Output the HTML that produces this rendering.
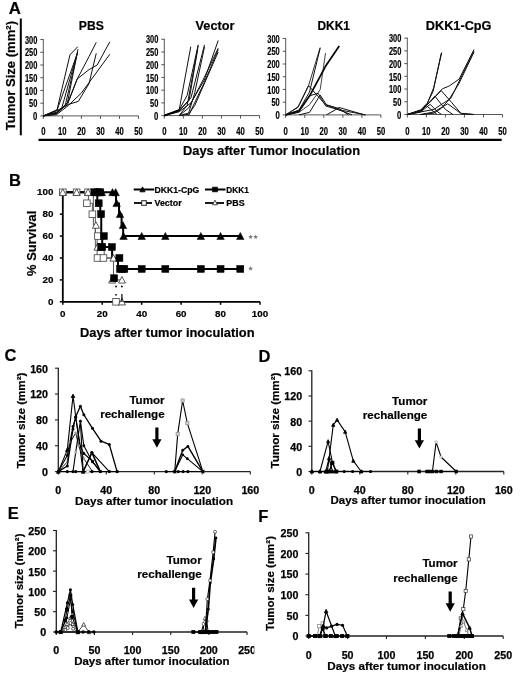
<!DOCTYPE html><html><head><meta charset="utf-8"><style>html,body{margin:0;padding:0;background:#fff;}svg{display:block;will-change:transform;}text{font-family:"Liberation Sans",sans-serif;}</style></head><body>
<svg width="520" height="677" viewBox="0 0 520 677">
<rect width="520" height="677" fill="#fff"/>
<text x="8.70" y="13.60" font-size="16.8" font-weight="bold" text-anchor="start" fill="#000"  stroke="#000" stroke-width="0.2">A</text>
<line x1="20.80" y1="18.50" x2="20.80" y2="135.30" stroke="#000" stroke-width="2"/>
<text transform="translate(15.40,130.30) rotate(-90)" x="0" y="0" font-size="13.3" font-weight="bold" textLength="109.30" lengthAdjust="spacingAndGlyphs" stroke="#000" stroke-width="0.2">Tumor Size (mm²)</text>
<line x1="38.50" y1="139.80" x2="501.70" y2="139.80" stroke="#000" stroke-width="2.2"/>
<text x="183.00" y="155.20" font-size="12.9" font-weight="bold" text-anchor="start" fill="#000" textLength="177" lengthAdjust="spacingAndGlyphs"  stroke="#000" stroke-width="0.2">Days after Tumor Inoculation</text>
<line x1="43.30" y1="39.05" x2="43.30" y2="115.90" stroke="#444" stroke-width="0.9"/>
<line x1="40.30" y1="115.90" x2="43.30" y2="115.90" stroke="#444" stroke-width="0.9"/>
<text x="37.30" y="120.10" font-size="10.2" font-weight="bold" text-anchor="end" fill="#000" textLength="4.3" lengthAdjust="spacingAndGlyphs" stroke="#000" stroke-width="0.2">0</text>
<line x1="40.30" y1="103.18" x2="43.30" y2="103.18" stroke="#444" stroke-width="0.9"/>
<text x="37.30" y="107.38" font-size="10.2" font-weight="bold" text-anchor="end" fill="#000" textLength="8.3" lengthAdjust="spacingAndGlyphs" stroke="#000" stroke-width="0.2">50</text>
<line x1="40.30" y1="90.45" x2="43.30" y2="90.45" stroke="#444" stroke-width="0.9"/>
<text x="37.30" y="94.65" font-size="10.2" font-weight="bold" text-anchor="end" fill="#000" textLength="12.4" lengthAdjust="spacingAndGlyphs" stroke="#000" stroke-width="0.2">100</text>
<line x1="40.30" y1="77.73" x2="43.30" y2="77.73" stroke="#444" stroke-width="0.9"/>
<text x="37.30" y="81.93" font-size="10.2" font-weight="bold" text-anchor="end" fill="#000" textLength="12.4" lengthAdjust="spacingAndGlyphs" stroke="#000" stroke-width="0.2">150</text>
<line x1="40.30" y1="65.00" x2="43.30" y2="65.00" stroke="#444" stroke-width="0.9"/>
<text x="37.30" y="69.20" font-size="10.2" font-weight="bold" text-anchor="end" fill="#000" textLength="12.4" lengthAdjust="spacingAndGlyphs" stroke="#000" stroke-width="0.2">200</text>
<line x1="40.30" y1="52.28" x2="43.30" y2="52.28" stroke="#444" stroke-width="0.9"/>
<text x="37.30" y="56.48" font-size="10.2" font-weight="bold" text-anchor="end" fill="#000" textLength="12.4" lengthAdjust="spacingAndGlyphs" stroke="#000" stroke-width="0.2">250</text>
<line x1="40.30" y1="39.55" x2="43.30" y2="39.55" stroke="#444" stroke-width="0.9"/>
<text x="37.30" y="43.75" font-size="10.2" font-weight="bold" text-anchor="end" fill="#000" textLength="12.4" lengthAdjust="spacingAndGlyphs" stroke="#000" stroke-width="0.2">300</text>
<line x1="43.30" y1="115.90" x2="138.55" y2="115.90" stroke="#444" stroke-width="0.9"/>
<line x1="43.30" y1="115.90" x2="43.30" y2="118.90" stroke="#444" stroke-width="0.9"/>
<text x="43.30" y="135.20" font-size="10.2" font-weight="bold" text-anchor="middle" fill="#000" textLength="4.3" lengthAdjust="spacingAndGlyphs" stroke="#000" stroke-width="0.2">0</text>
<line x1="62.35" y1="115.90" x2="62.35" y2="118.90" stroke="#444" stroke-width="0.9"/>
<text x="62.35" y="135.20" font-size="10.2" font-weight="bold" text-anchor="middle" fill="#000" textLength="8.5" lengthAdjust="spacingAndGlyphs" stroke="#000" stroke-width="0.2">10</text>
<line x1="81.40" y1="115.90" x2="81.40" y2="118.90" stroke="#444" stroke-width="0.9"/>
<text x="81.40" y="135.20" font-size="10.2" font-weight="bold" text-anchor="middle" fill="#000" textLength="8.5" lengthAdjust="spacingAndGlyphs" stroke="#000" stroke-width="0.2">20</text>
<line x1="100.45" y1="115.90" x2="100.45" y2="118.90" stroke="#444" stroke-width="0.9"/>
<text x="100.45" y="135.20" font-size="10.2" font-weight="bold" text-anchor="middle" fill="#000" textLength="8.5" lengthAdjust="spacingAndGlyphs" stroke="#000" stroke-width="0.2">30</text>
<line x1="119.50" y1="115.90" x2="119.50" y2="118.90" stroke="#444" stroke-width="0.9"/>
<text x="119.50" y="135.20" font-size="10.2" font-weight="bold" text-anchor="middle" fill="#000" textLength="8.5" lengthAdjust="spacingAndGlyphs" stroke="#000" stroke-width="0.2">40</text>
<line x1="138.55" y1="115.90" x2="138.55" y2="118.90" stroke="#444" stroke-width="0.9"/>
<text x="138.55" y="135.20" font-size="10.2" font-weight="bold" text-anchor="middle" fill="#000" textLength="8.5" lengthAdjust="spacingAndGlyphs" stroke="#000" stroke-width="0.2">50</text>
<text x="78.80" y="29.80" font-size="12.5" font-weight="bold" text-anchor="start" fill="#000" textLength="25.0" lengthAdjust="spacingAndGlyphs"  stroke="#000" stroke-width="0.2">PBS</text>
<line x1="164.30" y1="38.75" x2="164.30" y2="115.60" stroke="#444" stroke-width="0.9"/>
<line x1="161.30" y1="115.60" x2="164.30" y2="115.60" stroke="#444" stroke-width="0.9"/>
<text x="158.30" y="119.80" font-size="10.2" font-weight="bold" text-anchor="end" fill="#000" textLength="4.3" lengthAdjust="spacingAndGlyphs" stroke="#000" stroke-width="0.2">0</text>
<line x1="161.30" y1="102.88" x2="164.30" y2="102.88" stroke="#444" stroke-width="0.9"/>
<text x="158.30" y="107.08" font-size="10.2" font-weight="bold" text-anchor="end" fill="#000" textLength="8.3" lengthAdjust="spacingAndGlyphs" stroke="#000" stroke-width="0.2">50</text>
<line x1="161.30" y1="90.15" x2="164.30" y2="90.15" stroke="#444" stroke-width="0.9"/>
<text x="158.30" y="94.35" font-size="10.2" font-weight="bold" text-anchor="end" fill="#000" textLength="12.4" lengthAdjust="spacingAndGlyphs" stroke="#000" stroke-width="0.2">100</text>
<line x1="161.30" y1="77.42" x2="164.30" y2="77.42" stroke="#444" stroke-width="0.9"/>
<text x="158.30" y="81.62" font-size="10.2" font-weight="bold" text-anchor="end" fill="#000" textLength="12.4" lengthAdjust="spacingAndGlyphs" stroke="#000" stroke-width="0.2">150</text>
<line x1="161.30" y1="64.70" x2="164.30" y2="64.70" stroke="#444" stroke-width="0.9"/>
<text x="158.30" y="68.90" font-size="10.2" font-weight="bold" text-anchor="end" fill="#000" textLength="12.4" lengthAdjust="spacingAndGlyphs" stroke="#000" stroke-width="0.2">200</text>
<line x1="161.30" y1="51.97" x2="164.30" y2="51.97" stroke="#444" stroke-width="0.9"/>
<text x="158.30" y="56.17" font-size="10.2" font-weight="bold" text-anchor="end" fill="#000" textLength="12.4" lengthAdjust="spacingAndGlyphs" stroke="#000" stroke-width="0.2">250</text>
<line x1="161.30" y1="39.25" x2="164.30" y2="39.25" stroke="#444" stroke-width="0.9"/>
<text x="158.30" y="43.45" font-size="10.2" font-weight="bold" text-anchor="end" fill="#000" textLength="12.4" lengthAdjust="spacingAndGlyphs" stroke="#000" stroke-width="0.2">300</text>
<line x1="164.30" y1="115.60" x2="259.55" y2="115.60" stroke="#444" stroke-width="0.9"/>
<line x1="164.30" y1="115.60" x2="164.30" y2="118.60" stroke="#444" stroke-width="0.9"/>
<text x="164.30" y="135.20" font-size="10.2" font-weight="bold" text-anchor="middle" fill="#000" textLength="4.3" lengthAdjust="spacingAndGlyphs" stroke="#000" stroke-width="0.2">0</text>
<line x1="183.35" y1="115.60" x2="183.35" y2="118.60" stroke="#444" stroke-width="0.9"/>
<text x="183.35" y="135.20" font-size="10.2" font-weight="bold" text-anchor="middle" fill="#000" textLength="8.5" lengthAdjust="spacingAndGlyphs" stroke="#000" stroke-width="0.2">10</text>
<line x1="202.40" y1="115.60" x2="202.40" y2="118.60" stroke="#444" stroke-width="0.9"/>
<text x="202.40" y="135.20" font-size="10.2" font-weight="bold" text-anchor="middle" fill="#000" textLength="8.5" lengthAdjust="spacingAndGlyphs" stroke="#000" stroke-width="0.2">20</text>
<line x1="221.45" y1="115.60" x2="221.45" y2="118.60" stroke="#444" stroke-width="0.9"/>
<text x="221.45" y="135.20" font-size="10.2" font-weight="bold" text-anchor="middle" fill="#000" textLength="8.5" lengthAdjust="spacingAndGlyphs" stroke="#000" stroke-width="0.2">30</text>
<line x1="240.50" y1="115.60" x2="240.50" y2="118.60" stroke="#444" stroke-width="0.9"/>
<text x="240.50" y="135.20" font-size="10.2" font-weight="bold" text-anchor="middle" fill="#000" textLength="8.5" lengthAdjust="spacingAndGlyphs" stroke="#000" stroke-width="0.2">40</text>
<line x1="259.55" y1="115.60" x2="259.55" y2="118.60" stroke="#444" stroke-width="0.9"/>
<text x="259.55" y="135.20" font-size="10.2" font-weight="bold" text-anchor="middle" fill="#000" textLength="8.5" lengthAdjust="spacingAndGlyphs" stroke="#000" stroke-width="0.2">50</text>
<text x="195.60" y="29.80" font-size="12.5" font-weight="bold" text-anchor="start" fill="#000" textLength="38.8" lengthAdjust="spacingAndGlyphs"  stroke="#000" stroke-width="0.2">Vector</text>
<line x1="285.70" y1="38.05" x2="285.70" y2="114.90" stroke="#444" stroke-width="0.9"/>
<line x1="282.70" y1="114.90" x2="285.70" y2="114.90" stroke="#444" stroke-width="0.9"/>
<text x="279.70" y="119.10" font-size="10.2" font-weight="bold" text-anchor="end" fill="#000" textLength="4.3" lengthAdjust="spacingAndGlyphs" stroke="#000" stroke-width="0.2">0</text>
<line x1="282.70" y1="102.18" x2="285.70" y2="102.18" stroke="#444" stroke-width="0.9"/>
<text x="279.70" y="106.38" font-size="10.2" font-weight="bold" text-anchor="end" fill="#000" textLength="8.3" lengthAdjust="spacingAndGlyphs" stroke="#000" stroke-width="0.2">50</text>
<line x1="282.70" y1="89.45" x2="285.70" y2="89.45" stroke="#444" stroke-width="0.9"/>
<text x="279.70" y="93.65" font-size="10.2" font-weight="bold" text-anchor="end" fill="#000" textLength="12.4" lengthAdjust="spacingAndGlyphs" stroke="#000" stroke-width="0.2">100</text>
<line x1="282.70" y1="76.73" x2="285.70" y2="76.73" stroke="#444" stroke-width="0.9"/>
<text x="279.70" y="80.93" font-size="10.2" font-weight="bold" text-anchor="end" fill="#000" textLength="12.4" lengthAdjust="spacingAndGlyphs" stroke="#000" stroke-width="0.2">150</text>
<line x1="282.70" y1="64.00" x2="285.70" y2="64.00" stroke="#444" stroke-width="0.9"/>
<text x="279.70" y="68.20" font-size="10.2" font-weight="bold" text-anchor="end" fill="#000" textLength="12.4" lengthAdjust="spacingAndGlyphs" stroke="#000" stroke-width="0.2">200</text>
<line x1="282.70" y1="51.28" x2="285.70" y2="51.28" stroke="#444" stroke-width="0.9"/>
<text x="279.70" y="55.48" font-size="10.2" font-weight="bold" text-anchor="end" fill="#000" textLength="12.4" lengthAdjust="spacingAndGlyphs" stroke="#000" stroke-width="0.2">250</text>
<line x1="282.70" y1="38.55" x2="285.70" y2="38.55" stroke="#444" stroke-width="0.9"/>
<text x="279.70" y="42.75" font-size="10.2" font-weight="bold" text-anchor="end" fill="#000" textLength="12.4" lengthAdjust="spacingAndGlyphs" stroke="#000" stroke-width="0.2">300</text>
<line x1="285.70" y1="114.90" x2="380.95" y2="114.90" stroke="#444" stroke-width="0.9"/>
<line x1="285.70" y1="114.90" x2="285.70" y2="117.90" stroke="#444" stroke-width="0.9"/>
<text x="285.70" y="135.20" font-size="10.2" font-weight="bold" text-anchor="middle" fill="#000" textLength="4.3" lengthAdjust="spacingAndGlyphs" stroke="#000" stroke-width="0.2">0</text>
<line x1="304.75" y1="114.90" x2="304.75" y2="117.90" stroke="#444" stroke-width="0.9"/>
<text x="304.75" y="135.20" font-size="10.2" font-weight="bold" text-anchor="middle" fill="#000" textLength="8.5" lengthAdjust="spacingAndGlyphs" stroke="#000" stroke-width="0.2">10</text>
<line x1="323.80" y1="114.90" x2="323.80" y2="117.90" stroke="#444" stroke-width="0.9"/>
<text x="323.80" y="135.20" font-size="10.2" font-weight="bold" text-anchor="middle" fill="#000" textLength="8.5" lengthAdjust="spacingAndGlyphs" stroke="#000" stroke-width="0.2">20</text>
<line x1="342.85" y1="114.90" x2="342.85" y2="117.90" stroke="#444" stroke-width="0.9"/>
<text x="342.85" y="135.20" font-size="10.2" font-weight="bold" text-anchor="middle" fill="#000" textLength="8.5" lengthAdjust="spacingAndGlyphs" stroke="#000" stroke-width="0.2">30</text>
<line x1="361.90" y1="114.90" x2="361.90" y2="117.90" stroke="#444" stroke-width="0.9"/>
<text x="361.90" y="135.20" font-size="10.2" font-weight="bold" text-anchor="middle" fill="#000" textLength="8.5" lengthAdjust="spacingAndGlyphs" stroke="#000" stroke-width="0.2">40</text>
<line x1="380.95" y1="114.90" x2="380.95" y2="117.90" stroke="#444" stroke-width="0.9"/>
<text x="380.95" y="135.20" font-size="10.2" font-weight="bold" text-anchor="middle" fill="#000" textLength="8.5" lengthAdjust="spacingAndGlyphs" stroke="#000" stroke-width="0.2">50</text>
<text x="317.50" y="29.80" font-size="12.5" font-weight="bold" text-anchor="start" fill="#000" textLength="32.4" lengthAdjust="spacingAndGlyphs"  stroke="#000" stroke-width="0.2">DKK1</text>
<line x1="407.30" y1="37.65" x2="407.30" y2="114.50" stroke="#444" stroke-width="0.9"/>
<line x1="404.30" y1="114.50" x2="407.30" y2="114.50" stroke="#444" stroke-width="0.9"/>
<text x="401.30" y="118.70" font-size="10.2" font-weight="bold" text-anchor="end" fill="#000" textLength="4.3" lengthAdjust="spacingAndGlyphs" stroke="#000" stroke-width="0.2">0</text>
<line x1="404.30" y1="101.78" x2="407.30" y2="101.78" stroke="#444" stroke-width="0.9"/>
<text x="401.30" y="105.98" font-size="10.2" font-weight="bold" text-anchor="end" fill="#000" textLength="8.3" lengthAdjust="spacingAndGlyphs" stroke="#000" stroke-width="0.2">50</text>
<line x1="404.30" y1="89.05" x2="407.30" y2="89.05" stroke="#444" stroke-width="0.9"/>
<text x="401.30" y="93.25" font-size="10.2" font-weight="bold" text-anchor="end" fill="#000" textLength="12.4" lengthAdjust="spacingAndGlyphs" stroke="#000" stroke-width="0.2">100</text>
<line x1="404.30" y1="76.33" x2="407.30" y2="76.33" stroke="#444" stroke-width="0.9"/>
<text x="401.30" y="80.53" font-size="10.2" font-weight="bold" text-anchor="end" fill="#000" textLength="12.4" lengthAdjust="spacingAndGlyphs" stroke="#000" stroke-width="0.2">150</text>
<line x1="404.30" y1="63.60" x2="407.30" y2="63.60" stroke="#444" stroke-width="0.9"/>
<text x="401.30" y="67.80" font-size="10.2" font-weight="bold" text-anchor="end" fill="#000" textLength="12.4" lengthAdjust="spacingAndGlyphs" stroke="#000" stroke-width="0.2">200</text>
<line x1="404.30" y1="50.88" x2="407.30" y2="50.88" stroke="#444" stroke-width="0.9"/>
<text x="401.30" y="55.08" font-size="10.2" font-weight="bold" text-anchor="end" fill="#000" textLength="12.4" lengthAdjust="spacingAndGlyphs" stroke="#000" stroke-width="0.2">250</text>
<line x1="404.30" y1="38.15" x2="407.30" y2="38.15" stroke="#444" stroke-width="0.9"/>
<text x="401.30" y="42.35" font-size="10.2" font-weight="bold" text-anchor="end" fill="#000" textLength="12.4" lengthAdjust="spacingAndGlyphs" stroke="#000" stroke-width="0.2">300</text>
<line x1="407.30" y1="114.50" x2="502.55" y2="114.50" stroke="#444" stroke-width="0.9"/>
<line x1="407.30" y1="114.50" x2="407.30" y2="117.50" stroke="#444" stroke-width="0.9"/>
<text x="407.30" y="135.20" font-size="10.2" font-weight="bold" text-anchor="middle" fill="#000" textLength="4.3" lengthAdjust="spacingAndGlyphs" stroke="#000" stroke-width="0.2">0</text>
<line x1="426.35" y1="114.50" x2="426.35" y2="117.50" stroke="#444" stroke-width="0.9"/>
<text x="426.35" y="135.20" font-size="10.2" font-weight="bold" text-anchor="middle" fill="#000" textLength="8.5" lengthAdjust="spacingAndGlyphs" stroke="#000" stroke-width="0.2">10</text>
<line x1="445.40" y1="114.50" x2="445.40" y2="117.50" stroke="#444" stroke-width="0.9"/>
<text x="445.40" y="135.20" font-size="10.2" font-weight="bold" text-anchor="middle" fill="#000" textLength="8.5" lengthAdjust="spacingAndGlyphs" stroke="#000" stroke-width="0.2">20</text>
<line x1="464.45" y1="114.50" x2="464.45" y2="117.50" stroke="#444" stroke-width="0.9"/>
<text x="464.45" y="135.20" font-size="10.2" font-weight="bold" text-anchor="middle" fill="#000" textLength="8.5" lengthAdjust="spacingAndGlyphs" stroke="#000" stroke-width="0.2">30</text>
<line x1="483.50" y1="114.50" x2="483.50" y2="117.50" stroke="#444" stroke-width="0.9"/>
<text x="483.50" y="135.20" font-size="10.2" font-weight="bold" text-anchor="middle" fill="#000" textLength="8.5" lengthAdjust="spacingAndGlyphs" stroke="#000" stroke-width="0.2">40</text>
<line x1="502.55" y1="114.50" x2="502.55" y2="117.50" stroke="#444" stroke-width="0.9"/>
<text x="502.55" y="135.20" font-size="10.2" font-weight="bold" text-anchor="middle" fill="#000" textLength="8.5" lengthAdjust="spacingAndGlyphs" stroke="#000" stroke-width="0.2">50</text>
<text x="425.80" y="29.80" font-size="12.5" font-weight="bold" text-anchor="start" fill="#000" textLength="65.7" lengthAdjust="spacingAndGlyphs"  stroke="#000" stroke-width="0.2">DKK1-CpG</text>
<polyline points="43.30,115.90 57.02,109.79 69.97,54.82 77.78,46.68" fill="none" stroke="#111" stroke-width="1.0" stroke-linejoin="round" />
<polyline points="43.30,115.90 57.02,110.30 76.64,55.33" fill="none" stroke="#111" stroke-width="1.0" stroke-linejoin="round" />
<polyline points="43.30,115.90 56.63,112.08 61.78,108.01 77.21,53.29" fill="none" stroke="#111" stroke-width="1.0" stroke-linejoin="round" />
<polyline points="43.30,115.90 56.63,112.85 65.21,105.47 77.59,52.02" fill="none" stroke="#111" stroke-width="1.0" stroke-linejoin="round" />
<polyline points="43.30,115.90 56.63,113.36 67.49,102.41 77.97,49.22" fill="none" stroke="#111" stroke-width="1.0" stroke-linejoin="round" />
<polyline points="43.30,115.90 56.63,112.85 67.49,104.45 77.21,79.00 89.02,56.60 96.26,42.35" fill="none" stroke="#111" stroke-width="1.0" stroke-linejoin="round" />
<polyline points="43.30,115.90 56.63,113.86 67.49,103.18 77.21,79.00 89.02,69.58 97.21,65.00 109.78,41.84" fill="none" stroke="#111" stroke-width="1.0" stroke-linejoin="round" />
<polyline points="43.30,115.90 56.63,110.81 68.45,104.45 78.35,101.39 89.02,83.58 96.26,53.29" fill="none" stroke="#111" stroke-width="1.0" stroke-linejoin="round" />
<polyline points="43.30,115.90 56.63,114.63 68.06,105.72 81.40,93.00 109.78,54.31" fill="none" stroke="#111" stroke-width="1.0" stroke-linejoin="round" />
<polyline points="164.30,115.60 179.16,110.00 190.78,46.63" fill="none" stroke="#111" stroke-width="1.0" stroke-linejoin="round" />
<polyline points="164.30,115.60 179.16,110.00 187.16,95.24 198.21,44.85" fill="none" stroke="#111" stroke-width="1.0" stroke-linejoin="round" />
<polyline points="164.30,115.60 179.16,111.02 189.06,100.33 197.64,49.43" fill="none" stroke="#111" stroke-width="1.0" stroke-linejoin="round" />
<polyline points="179.16,115.60 187.16,105.42 198.21,45.61" fill="none" stroke="#111" stroke-width="1.0" stroke-linejoin="round" />
<polyline points="164.30,115.60 179.16,110.51 190.97,97.78 204.50,44.85" fill="none" stroke="#111" stroke-width="1.0" stroke-linejoin="round" />
<polyline points="179.16,115.60 188.68,113.05 194.78,92.69 204.50,46.88" fill="none" stroke="#111" stroke-width="1.0" stroke-linejoin="round" />
<polyline points="164.30,115.60 179.16,111.78 190.97,102.88 204.31,79.97 218.21,40.52" fill="none" stroke="#111" stroke-width="1.0" stroke-linejoin="round" />
<polyline points="179.16,115.60 188.68,107.96 204.31,77.42 218.21,48.16" fill="none" stroke="#111" stroke-width="1.0" stroke-linejoin="round" />
<polyline points="179.16,115.60 188.68,114.33 194.78,105.42 218.21,51.97" fill="none" stroke="#111" stroke-width="1.0" stroke-linejoin="round" />
<polyline points="188.68,115.60 190.97,110.51 204.31,82.51 218.21,49.43" fill="none" stroke="#111" stroke-width="1.0" stroke-linejoin="round" />
<polyline points="164.30,115.60 179.16,110.00" fill="none" stroke="#000" stroke-width="1.8" stroke-linejoin="round" />
<polyline points="285.70,114.90 298.08,106.76 308.56,85.63 320.18,47.46" fill="none" stroke="#333" stroke-width="1.0" stroke-linejoin="round" />
<polyline points="285.70,114.90 299.03,110.06 309.51,92.00 320.18,48.22" fill="none" stroke="#111" stroke-width="1.0" stroke-linejoin="round" />
<polyline points="285.70,114.90 299.03,112.36 309.51,104.72 320.18,89.70 325.51,53.06" fill="none" stroke="#444" stroke-width="1.0" stroke-linejoin="round" />
<polyline points="285.70,114.90 299.03,111.08 309.51,96.07 325.51,66.29 339.23,45.93" fill="none" stroke="#000" stroke-width="1.7" stroke-linejoin="round" />
<polyline points="285.70,114.90 298.08,107.27 308.56,85.63 325.51,104.72 351.99,114.90" fill="none" stroke="#111" stroke-width="1.0" stroke-linejoin="round" />
<polyline points="299.03,114.90 309.51,112.36 320.18,95.05 326.47,104.72 339.04,108.54 348.56,114.90" fill="none" stroke="#111" stroke-width="1.0" stroke-linejoin="round" />
<polyline points="326.47,114.90 339.23,107.52 364.57,114.90" fill="none" stroke="#111" stroke-width="1.0" stroke-linejoin="round" />
<polyline points="285.70,114.90 299.03,111.85 309.51,95.81 318.08,93.27 325.70,105.99 339.04,109.81 365.71,114.90" fill="none" stroke="#111" stroke-width="1.0" stroke-linejoin="round" />
<polyline points="407.30,114.50 420.63,110.68 426.35,105.85 433.78,87.52 441.78,52.40" fill="none" stroke="#111" stroke-width="1.0" stroke-linejoin="round" />
<polyline points="407.30,114.50 420.63,109.92 426.35,104.83 433.02,91.59 441.21,53.42" fill="none" stroke="#111" stroke-width="1.0" stroke-linejoin="round" />
<polyline points="407.30,114.50 421.21,110.17 430.16,101.78 442.35,88.80 449.21,86.00 459.12,79.12 473.98,49.60" fill="none" stroke="#111" stroke-width="1.0" stroke-linejoin="round" />
<polyline points="407.30,114.50 420.63,111.95 433.97,109.41 441.59,104.32 450.73,98.47 473.98,50.88" fill="none" stroke="#111" stroke-width="1.0" stroke-linejoin="round" />
<polyline points="420.63,114.50 433.97,113.23 441.59,108.14 449.21,99.23 458.74,83.96 473.98,52.15" fill="none" stroke="#111" stroke-width="1.0" stroke-linejoin="round" />
<polyline points="407.30,114.50 421.21,110.17 431.68,100.50 441.21,90.58 451.69,102.54 461.21,113.74 473.98,114.50" fill="none" stroke="#111" stroke-width="1.0" stroke-linejoin="round" />
<polyline points="407.30,114.50 420.63,111.45 426.35,105.59 434.92,96.18 445.40,109.41 453.02,114.50" fill="none" stroke="#111" stroke-width="1.0" stroke-linejoin="round" />
<polyline points="407.30,114.50 420.63,110.94 425.40,104.83 437.02,114.50" fill="none" stroke="#111" stroke-width="1.0" stroke-linejoin="round" />
<polyline points="420.63,114.50 433.97,111.95 447.69,103.81 460.64,113.23 473.98,114.50" fill="none" stroke="#111" stroke-width="1.0" stroke-linejoin="round" />
<polyline points="407.30,114.50 420.63,111.95 430.16,104.32 437.78,111.95 441.59,114.50" fill="none" stroke="#111" stroke-width="1.0" stroke-linejoin="round" />
<text x="8.90" y="185.60" font-size="16.5" font-weight="bold" text-anchor="start" fill="#000"  stroke="#000" stroke-width="0.2">B</text>
<line x1="62.80" y1="191.80" x2="62.80" y2="301.80" stroke="#000" stroke-width="1.8"/>
<line x1="62.80" y1="301.80" x2="260.00" y2="301.80" stroke="#000" stroke-width="1.8"/>
<line x1="59.80" y1="301.80" x2="62.80" y2="301.80" stroke="#000" stroke-width="1.5"/>
<text x="53.40" y="304.70" font-size="9.8" font-weight="bold" text-anchor="end" fill="#000" stroke="#000" stroke-width="0.2">0</text>
<line x1="59.80" y1="279.90" x2="62.80" y2="279.90" stroke="#000" stroke-width="1.5"/>
<text x="53.40" y="282.80" font-size="9.8" font-weight="bold" text-anchor="end" fill="#000" stroke="#000" stroke-width="0.2">20</text>
<line x1="59.80" y1="258.00" x2="62.80" y2="258.00" stroke="#000" stroke-width="1.5"/>
<text x="53.40" y="260.90" font-size="9.8" font-weight="bold" text-anchor="end" fill="#000" stroke="#000" stroke-width="0.2">40</text>
<line x1="59.80" y1="236.10" x2="62.80" y2="236.10" stroke="#000" stroke-width="1.5"/>
<text x="53.40" y="239.00" font-size="9.8" font-weight="bold" text-anchor="end" fill="#000" stroke="#000" stroke-width="0.2">60</text>
<line x1="59.80" y1="214.20" x2="62.80" y2="214.20" stroke="#000" stroke-width="1.5"/>
<text x="53.40" y="217.10" font-size="9.8" font-weight="bold" text-anchor="end" fill="#000" stroke="#000" stroke-width="0.2">80</text>
<line x1="59.80" y1="192.30" x2="62.80" y2="192.30" stroke="#000" stroke-width="1.5"/>
<text x="53.40" y="195.20" font-size="9.8" font-weight="bold" text-anchor="end" fill="#000" stroke="#000" stroke-width="0.2">100</text>
<line x1="62.80" y1="301.80" x2="62.80" y2="304.80" stroke="#000" stroke-width="1.5"/>
<text x="62.80" y="317.20" font-size="9.8" font-weight="bold" text-anchor="middle" fill="#000" stroke="#000" stroke-width="0.2">0</text>
<line x1="102.24" y1="301.80" x2="102.24" y2="304.80" stroke="#000" stroke-width="1.5"/>
<text x="102.24" y="317.20" font-size="9.8" font-weight="bold" text-anchor="middle" fill="#000" stroke="#000" stroke-width="0.2">20</text>
<line x1="141.68" y1="301.80" x2="141.68" y2="304.80" stroke="#000" stroke-width="1.5"/>
<text x="141.68" y="317.20" font-size="9.8" font-weight="bold" text-anchor="middle" fill="#000" stroke="#000" stroke-width="0.2">40</text>
<line x1="181.12" y1="301.80" x2="181.12" y2="304.80" stroke="#000" stroke-width="1.5"/>
<text x="181.12" y="317.20" font-size="9.8" font-weight="bold" text-anchor="middle" fill="#000" stroke="#000" stroke-width="0.2">60</text>
<line x1="220.56" y1="301.80" x2="220.56" y2="304.80" stroke="#000" stroke-width="1.5"/>
<text x="220.56" y="317.20" font-size="9.8" font-weight="bold" text-anchor="middle" fill="#000" stroke="#000" stroke-width="0.2">80</text>
<line x1="260.00" y1="301.80" x2="260.00" y2="304.80" stroke="#000" stroke-width="1.5"/>
<text x="260.00" y="317.20" font-size="9.8" font-weight="bold" text-anchor="middle" fill="#000" stroke="#000" stroke-width="0.2">100</text>
<text transform="translate(36.10,275.90) rotate(-90)" x="0" y="0" font-size="12.9" font-weight="bold" textLength="65.20" lengthAdjust="spacingAndGlyphs" stroke="#000" stroke-width="0.2">% Survival</text>
<text x="80.00" y="336.50" font-size="12.9" font-weight="bold" text-anchor="start" fill="#000" textLength="174.6" lengthAdjust="spacingAndGlyphs"  stroke="#000" stroke-width="0.2">Days after tumor inoculation</text>
<polyline points="62.80,192.30 88.44,192.30 88.44,203.25 92.38,203.25 92.38,214.20 95.34,214.20 95.34,236.10 97.11,236.10 97.11,258.00 116.04,258.00" fill="none" stroke="#555" stroke-width="1.0" stroke-linejoin="round" />
<polyline points="62.80,192.30 93.37,192.30 93.37,225.15 95.34,225.15 95.34,247.05 104.21,247.05 104.21,258.00 113.48,258.00 113.48,279.90 121.96,279.90" fill="none" stroke="#555" stroke-width="1.0" stroke-linejoin="round" />
<polyline points="62.80,192.30 97.31,192.30 97.31,203.25 100.27,203.25 100.27,214.20 101.25,214.20 101.25,236.10 102.24,236.10 102.24,247.05 112.10,247.05 112.10,258.00 118.02,258.00 118.02,268.95 240.28,268.95" fill="none" stroke="#000" stroke-width="2.0" stroke-linejoin="round" />
<polyline points="62.80,192.30 116.04,192.30 116.04,203.25 119.00,203.25 119.00,214.20 121.57,214.20 121.57,225.15 123.14,225.15 123.14,236.10 240.28,236.10" fill="none" stroke="#000" stroke-width="2.0" stroke-linejoin="round" />
<rect x="59.50" y="189.00" width="6.6" height="6.6" fill="#fff" stroke="#555" stroke-width="0.9"/>
<rect x="73.30" y="189.00" width="6.6" height="6.6" fill="#fff" stroke="#555" stroke-width="0.9"/>
<rect x="84.74" y="189.00" width="6.6" height="6.6" fill="#fff" stroke="#555" stroke-width="0.9"/>
<rect x="83.56" y="199.95" width="6.6" height="6.6" fill="#fff" stroke="#555" stroke-width="0.9"/>
<rect x="89.08" y="210.90" width="6.6" height="6.6" fill="#fff" stroke="#555" stroke-width="0.9"/>
<rect x="94.60" y="232.80" width="6.6" height="6.6" fill="#fff" stroke="#555" stroke-width="0.9"/>
<rect x="94.21" y="254.70" width="6.6" height="6.6" fill="#fff" stroke="#555" stroke-width="0.9"/>
<rect x="100.12" y="254.70" width="6.6" height="6.6" fill="#fff" stroke="#555" stroke-width="0.9"/>
<rect x="112.74" y="298.50" width="6.6" height="6.6" fill="#fff" stroke="#555" stroke-width="0.9"/>
<polygon points="62.80,188.85 66.30,195.45 59.30,195.45" fill="#fff" stroke="#444" stroke-width="0.9"/>
<polygon points="76.60,188.85 80.10,195.45 73.10,195.45" fill="#fff" stroke="#444" stroke-width="0.9"/>
<polygon points="88.04,188.85 91.54,195.45 84.54,195.45" fill="#fff" stroke="#444" stroke-width="0.9"/>
<polygon points="95.93,221.70 99.43,228.30 92.43,228.30" fill="#fff" stroke="#444" stroke-width="0.9"/>
<polygon points="97.51,243.60 101.01,250.20 94.01,250.20" fill="#fff" stroke="#444" stroke-width="0.9"/>
<polygon points="113.48,254.55 116.98,261.15 109.98,261.15" fill="#fff" stroke="#444" stroke-width="0.9"/>
<polygon points="112.10,276.45 115.60,283.05 108.60,283.05" fill="#fff" stroke="#444" stroke-width="0.9"/>
<polygon points="121.96,276.45 125.46,283.05 118.46,283.05" fill="#fff" stroke="#444" stroke-width="0.9"/>
<polygon points="121.96,298.35 125.46,304.95 118.46,304.95" fill="#fff" stroke="#444" stroke-width="0.9"/>
<rect x="90.85" y="188.80" width="7" height="7" fill="#000" stroke="#000" stroke-width="0.5"/>
<rect x="94.01" y="188.80" width="7" height="7" fill="#000" stroke="#000" stroke-width="0.5"/>
<rect x="96.77" y="188.80" width="7" height="7" fill="#000" stroke="#000" stroke-width="0.5"/>
<rect x="95.19" y="199.75" width="7" height="7" fill="#000" stroke="#000" stroke-width="0.5"/>
<rect x="97.56" y="210.70" width="7" height="7" fill="#000" stroke="#000" stroke-width="0.5"/>
<rect x="100.32" y="232.60" width="7" height="7" fill="#000" stroke="#000" stroke-width="0.5"/>
<rect x="97.56" y="243.55" width="7" height="7" fill="#000" stroke="#000" stroke-width="0.5"/>
<rect x="98.74" y="243.55" width="7" height="7" fill="#000" stroke="#000" stroke-width="0.5"/>
<rect x="108.40" y="243.55" width="7" height="7" fill="#000" stroke="#000" stroke-width="0.5"/>
<rect x="115.90" y="254.50" width="7" height="7" fill="#000" stroke="#000" stroke-width="0.5"/>
<rect x="116.49" y="265.45" width="7" height="7" fill="#000" stroke="#000" stroke-width="0.5"/>
<rect x="118.85" y="265.45" width="7" height="7" fill="#000" stroke="#000" stroke-width="0.5"/>
<rect x="120.83" y="265.45" width="7" height="7" fill="#000" stroke="#000" stroke-width="0.5"/>
<rect x="138.18" y="265.45" width="7" height="7" fill="#000" stroke="#000" stroke-width="0.5"/>
<rect x="161.84" y="265.45" width="7" height="7" fill="#000" stroke="#000" stroke-width="0.5"/>
<rect x="197.34" y="265.45" width="7" height="7" fill="#000" stroke="#000" stroke-width="0.5"/>
<rect x="217.06" y="265.45" width="7" height="7" fill="#000" stroke="#000" stroke-width="0.5"/>
<rect x="236.78" y="265.45" width="7" height="7" fill="#000" stroke="#000" stroke-width="0.5"/>
<rect x="110.57" y="274.76" width="7" height="7" fill="#000" stroke="#000" stroke-width="0.5"/>
<polygon points="96.32,188.62 100.07,195.68 92.57,195.68" fill="#000" stroke="#000" stroke-width="0.5"/>
<polygon points="99.28,188.62 103.03,195.68 95.53,195.68" fill="#000" stroke="#000" stroke-width="0.5"/>
<polygon points="101.85,188.62 105.60,195.68 98.10,195.68" fill="#000" stroke="#000" stroke-width="0.5"/>
<polygon points="112.49,188.62 116.24,195.68 108.74,195.68" fill="#000" stroke="#000" stroke-width="0.5"/>
<polygon points="115.65,188.62 119.40,195.68 111.90,195.68" fill="#000" stroke="#000" stroke-width="0.5"/>
<polygon points="116.64,199.57 120.39,206.62 112.89,206.62" fill="#000" stroke="#000" stroke-width="0.5"/>
<polygon points="119.99,210.53 123.74,217.58 116.24,217.58" fill="#000" stroke="#000" stroke-width="0.5"/>
<polygon points="122.95,221.48 126.70,228.53 119.20,228.53" fill="#000" stroke="#000" stroke-width="0.5"/>
<polygon points="123.54,232.43 127.29,239.48 119.79,239.48" fill="#000" stroke="#000" stroke-width="0.5"/>
<polygon points="141.68,232.43 145.43,239.48 137.93,239.48" fill="#000" stroke="#000" stroke-width="0.5"/>
<polygon points="165.34,232.43 169.09,239.48 161.59,239.48" fill="#000" stroke="#000" stroke-width="0.5"/>
<polygon points="200.84,232.43 204.59,239.48 197.09,239.48" fill="#000" stroke="#000" stroke-width="0.5"/>
<polygon points="220.56,232.43 224.31,239.48 216.81,239.48" fill="#000" stroke="#000" stroke-width="0.5"/>
<polygon points="240.28,232.43 244.03,239.48 236.53,239.48" fill="#000" stroke="#000" stroke-width="0.5"/>
<circle cx="116.00" cy="286.50" r="0.9" fill="#000"/>
<circle cx="121.90" cy="286.50" r="0.9" fill="#000"/>
<circle cx="116.00" cy="294.80" r="0.9" fill="#000"/>
<line x1="121.90" y1="294.00" x2="121.90" y2="302.00" stroke="#000" stroke-width="1.2"/>
<line x1="133.70" y1="189.50" x2="154.30" y2="189.50" stroke="#000" stroke-width="2"/>
<polygon points="142.50,186.86 145.10,191.84 139.90,191.84" fill="#000" stroke="#000" stroke-width="0.8"/>
<text x="154.50" y="192.70" font-size="8.9" font-weight="bold" text-anchor="start" fill="#000" textLength="44.7" lengthAdjust="spacingAndGlyphs"  stroke="#000" stroke-width="0.2">DKK1-CpG</text>
<line x1="205.00" y1="189.50" x2="225.50" y2="189.50" stroke="#000" stroke-width="2"/>
<rect x="212.70" y="187.20" width="4.6" height="4.6" fill="#000" stroke="#000" stroke-width="0.8"/>
<text x="226.30" y="192.70" font-size="8.9" font-weight="bold" text-anchor="start" fill="#000" textLength="22.5" lengthAdjust="spacingAndGlyphs"  stroke="#000" stroke-width="0.2">DKK1</text>
<line x1="134.00" y1="203.00" x2="152.00" y2="203.00" stroke="#000" stroke-width="1.8"/>
<rect x="141.70" y="200.70" width="4.6" height="4.6" fill="#fff" stroke="#222" stroke-width="1.0"/>
<text x="154.50" y="206.20" font-size="8.9" font-weight="bold" text-anchor="start" fill="#000"  stroke="#000" stroke-width="0.2">Vector</text>
<line x1="205.00" y1="203.00" x2="224.00" y2="203.00" stroke="#000" stroke-width="1.8"/>
<polygon points="215.00,200.14 217.40,204.76 212.60,204.76" fill="#fff" stroke="#333" stroke-width="0.9"/>
<text x="226.30" y="206.20" font-size="8.9" font-weight="bold" text-anchor="start" fill="#000"  stroke="#000" stroke-width="0.2">PBS</text>
<polygon points="250.60,234.40 251.25,236.01 252.98,236.13 251.65,237.24 252.07,238.92 250.60,238.00 249.13,238.92 249.55,237.24 248.22,236.13 249.95,236.01" fill="#777"/>
<polygon points="255.60,234.40 256.25,236.01 257.98,236.13 256.65,237.24 257.07,238.92 255.60,238.00 254.13,238.92 254.55,237.24 253.22,236.13 254.95,236.01" fill="#777"/>
<polygon points="250.60,266.10 251.25,267.71 252.98,267.83 251.65,268.94 252.07,270.62 250.60,269.70 249.13,270.62 249.55,268.94 248.22,267.83 249.95,267.71" fill="#777"/>
<text x="4.50" y="361.00" font-size="16.5" font-weight="bold" text-anchor="start" fill="#000"  stroke="#000" stroke-width="0.2">C</text>
<line x1="58.30" y1="367.70" x2="58.30" y2="471.60" stroke="#222" stroke-width="1.3"/>
<line x1="58.30" y1="471.60" x2="250.30" y2="471.60" stroke="#222" stroke-width="1.3"/>
<line x1="55.00" y1="471.60" x2="58.30" y2="471.60" stroke="#222" stroke-width="1.1"/>
<text x="48.00" y="476.00" font-size="10.7" font-weight="bold" text-anchor="end" fill="#000" stroke="#000" stroke-width="0.25">0</text>
<line x1="55.00" y1="445.75" x2="58.30" y2="445.75" stroke="#222" stroke-width="1.1"/>
<text x="48.00" y="450.15" font-size="10.7" font-weight="bold" text-anchor="end" fill="#000" stroke="#000" stroke-width="0.25">40</text>
<line x1="55.00" y1="419.90" x2="58.30" y2="419.90" stroke="#222" stroke-width="1.1"/>
<text x="48.00" y="424.30" font-size="10.7" font-weight="bold" text-anchor="end" fill="#000" stroke="#000" stroke-width="0.25">80</text>
<line x1="55.00" y1="394.05" x2="58.30" y2="394.05" stroke="#222" stroke-width="1.1"/>
<text x="48.00" y="398.45" font-size="10.7" font-weight="bold" text-anchor="end" fill="#000" stroke="#000" stroke-width="0.25">120</text>
<line x1="55.00" y1="368.20" x2="58.30" y2="368.20" stroke="#222" stroke-width="1.1"/>
<text x="48.00" y="372.60" font-size="10.7" font-weight="bold" text-anchor="end" fill="#000" stroke="#000" stroke-width="0.25">160</text>
<line x1="58.30" y1="471.60" x2="58.30" y2="474.60" stroke="#222" stroke-width="1.1"/>
<text x="58.30" y="494.20" font-size="10.7" font-weight="bold" text-anchor="middle" fill="#000" stroke="#000" stroke-width="0.25">0</text>
<line x1="106.30" y1="471.60" x2="106.30" y2="474.60" stroke="#222" stroke-width="1.1"/>
<text x="106.30" y="494.20" font-size="10.7" font-weight="bold" text-anchor="middle" fill="#000" stroke="#000" stroke-width="0.25">40</text>
<line x1="154.30" y1="471.60" x2="154.30" y2="474.60" stroke="#222" stroke-width="1.1"/>
<text x="154.30" y="494.20" font-size="10.7" font-weight="bold" text-anchor="middle" fill="#000" stroke="#000" stroke-width="0.25">80</text>
<line x1="202.30" y1="471.60" x2="202.30" y2="474.60" stroke="#222" stroke-width="1.1"/>
<text x="202.30" y="494.20" font-size="10.7" font-weight="bold" text-anchor="middle" fill="#000" stroke="#000" stroke-width="0.25">120</text>
<line x1="250.30" y1="471.60" x2="250.30" y2="474.60" stroke="#222" stroke-width="1.1"/>
<text x="250.30" y="494.20" font-size="10.7" font-weight="bold" text-anchor="middle" fill="#000" stroke="#000" stroke-width="0.25">160</text>
<text transform="translate(25.00,468.40) rotate(-90)" x="0" y="0" font-size="10.8" font-weight="bold" textLength="95.80" lengthAdjust="spacingAndGlyphs" stroke="#000" stroke-width="0.2">Tumor size (mm²)</text>
<text x="75.00" y="505.00" font-size="11.6" font-weight="bold" text-anchor="start" fill="#000" textLength="158" lengthAdjust="spacingAndGlyphs"  stroke="#000" stroke-width="0.2">Days after tumor inoculation</text>
<text x="164.60" y="403.80" font-size="11.6" font-weight="bold" text-anchor="end" fill="#000"  stroke="#000" stroke-width="0.2">Tumor</text>
<text x="164.60" y="417.90" font-size="11.6" font-weight="bold" text-anchor="end" fill="#000"  stroke="#000" stroke-width="0.2">rechallenge</text>
<polygon points="155.30,427.50 158.50,427.50 158.50,439.22 161.50,439.22 156.90,447.70 152.30,439.22 155.30,439.22" fill="#000"/>
<polyline points="58.30,471.60 67.30,449.89 73.00,395.99 83.14,471.60" fill="none" stroke="#000" stroke-width="1.1" stroke-linejoin="round" />
<polygon points="58.30,469.68 60.10,473.22 56.50,473.22" fill="#000" stroke="#000" stroke-width="0.8"/>
<polygon points="67.30,447.97 69.10,451.51 65.50,451.51" fill="#000" stroke="#000" stroke-width="0.8"/>
<polygon points="73.00,394.07 74.80,397.61 71.20,397.61" fill="#000" stroke="#000" stroke-width="0.8"/>
<polygon points="83.14,469.68 84.94,473.22 81.34,473.22" fill="#000" stroke="#000" stroke-width="0.8"/>
<polyline points="58.30,471.60 67.30,455.44 73.00,426.36 75.70,417.31 80.38,446.40 83.86,453.50 92.50,461.26 100.30,471.60" fill="none" stroke="#000" stroke-width="1.1" stroke-linejoin="round" />
<circle cx="58.30" cy="471.60" r="1.4" fill="#000"/>
<circle cx="67.30" cy="455.44" r="1.4" fill="#000"/>
<circle cx="73.00" cy="426.36" r="1.4" fill="#000"/>
<circle cx="75.70" cy="417.31" r="1.4" fill="#000"/>
<circle cx="80.38" cy="446.40" r="1.4" fill="#000"/>
<circle cx="83.86" cy="453.50" r="1.4" fill="#000"/>
<circle cx="92.50" cy="461.26" r="1.4" fill="#000"/>
<circle cx="100.30" cy="471.60" r="1.4" fill="#000"/>
<polyline points="58.30,471.60 67.30,461.91 70.30,442.52 75.70,432.82 78.70,445.75 83.86,458.68 92.50,471.60" fill="none" stroke="#222" stroke-width="1.0" stroke-linejoin="round" />
<circle cx="58.30" cy="471.60" r="1.4" fill="#999"/>
<circle cx="67.30" cy="461.91" r="1.4" fill="#999"/>
<circle cx="70.30" cy="442.52" r="1.4" fill="#999"/>
<circle cx="75.70" cy="432.82" r="1.4" fill="#999"/>
<circle cx="78.70" cy="445.75" r="1.4" fill="#999"/>
<circle cx="83.86" cy="458.68" r="1.4" fill="#999"/>
<circle cx="92.50" cy="471.60" r="1.4" fill="#999"/>
<polyline points="73.00,471.60 75.70,452.21 80.38,421.19 83.14,471.60" fill="none" stroke="#000" stroke-width="1.1" stroke-linejoin="round" />
<circle cx="73.00" cy="471.60" r="1.5" fill="#aaa"/>
<circle cx="75.70" cy="452.21" r="1.5" fill="#aaa"/>
<circle cx="80.38" cy="421.19" r="1.5" fill="#aaa"/>
<circle cx="83.14" cy="471.60" r="1.5" fill="#aaa"/>
<polyline points="80.38,421.19 83.86,445.75 92.50,461.91 100.30,471.60" fill="none" stroke="#000" stroke-width="1.1" stroke-linejoin="round" />
<circle cx="80.38" cy="421.19" r="1.4" fill="#000"/>
<circle cx="83.86" cy="445.75" r="1.4" fill="#000"/>
<circle cx="92.50" cy="461.91" r="1.4" fill="#000"/>
<circle cx="100.30" cy="471.60" r="1.4" fill="#000"/>
<polyline points="83.14,471.60 91.90,452.60 100.30,471.60" fill="none" stroke="#000" stroke-width="1.5" stroke-linejoin="round" />
<circle cx="83.14" cy="471.60" r="1.5" fill="#000"/>
<circle cx="91.90" cy="452.60" r="1.5" fill="#000"/>
<circle cx="100.30" cy="471.60" r="1.5" fill="#000"/>
<polyline points="91.90,452.60 109.30,471.60" fill="none" stroke="#000" stroke-width="1.1" stroke-linejoin="round" />
<circle cx="91.90" cy="452.60" r="1.4" fill="#000"/>
<circle cx="109.30" cy="471.60" r="1.4" fill="#000"/>
<polyline points="58.30,471.60 67.30,465.98 73.00,428.95 75.70,416.86 80.38,406.33 83.86,414.73 92.50,428.30 101.02,441.23 109.30,444.46 117.10,471.60" fill="none" stroke="#000" stroke-width="1.3" stroke-linejoin="round" />
<circle cx="58.30" cy="471.60" r="1.5" fill="#000"/>
<circle cx="67.30" cy="465.98" r="1.5" fill="#000"/>
<circle cx="73.00" cy="428.95" r="1.5" fill="#000"/>
<circle cx="75.70" cy="416.86" r="1.5" fill="#000"/>
<circle cx="80.38" cy="406.33" r="1.5" fill="#000"/>
<circle cx="83.86" cy="414.73" r="1.5" fill="#000"/>
<circle cx="92.50" cy="428.30" r="1.5" fill="#000"/>
<circle cx="101.02" cy="441.23" r="1.5" fill="#000"/>
<circle cx="109.30" cy="444.46" r="1.5" fill="#000"/>
<circle cx="117.10" cy="471.60" r="1.5" fill="#000"/>
<polyline points="58.30,471.60 67.30,471.60 73.00,471.60 75.70,471.60 83.14,471.60 91.90,471.60 100.30,471.60 109.30,471.60 117.10,471.60" fill="none" stroke="#000" stroke-width="1.0" stroke-linejoin="round" />
<circle cx="58.30" cy="471.60" r="1.6" fill="#000"/>
<circle cx="67.30" cy="471.60" r="1.6" fill="#000"/>
<circle cx="73.00" cy="471.60" r="1.6" fill="#000"/>
<circle cx="75.70" cy="471.60" r="1.6" fill="#000"/>
<circle cx="83.14" cy="471.60" r="1.6" fill="#000"/>
<circle cx="91.90" cy="471.60" r="1.6" fill="#000"/>
<circle cx="100.30" cy="471.60" r="1.6" fill="#000"/>
<circle cx="109.30" cy="471.60" r="1.6" fill="#000"/>
<circle cx="117.10" cy="471.60" r="1.6" fill="#000"/>
<polyline points="87.70,471.60" fill="none" stroke="#000" stroke-width="1.0" stroke-linejoin="round" />
<rect x="86.20" y="470.10" width="3.0" height="3.0" fill="#fff" stroke="#aaa" stroke-width="0.7"/>
<polyline points="174.70,471.60 177.70,434.12 182.62,400.51 187.30,423.13 202.90,471.60" fill="none" stroke="#000" stroke-width="1.1" stroke-linejoin="round" />
<rect x="173.10" y="470.00" width="3.2" height="3.2" fill="#ccc" stroke="#999" stroke-width="0.8"/>
<rect x="176.10" y="432.52" width="3.2" height="3.2" fill="#ccc" stroke="#999" stroke-width="0.8"/>
<rect x="181.02" y="398.91" width="3.2" height="3.2" fill="#ccc" stroke="#999" stroke-width="0.8"/>
<rect x="185.70" y="421.53" width="3.2" height="3.2" fill="#ccc" stroke="#999" stroke-width="0.8"/>
<rect x="201.30" y="470.00" width="3.2" height="3.2" fill="#ccc" stroke="#999" stroke-width="0.8"/>
<polyline points="174.70,471.60 182.74,450.27 187.90,446.40 202.90,471.60" fill="none" stroke="#000" stroke-width="1.4" stroke-linejoin="round" />
<circle cx="174.70" cy="471.60" r="1.4" fill="#000"/>
<circle cx="182.74" cy="450.27" r="1.4" fill="#000"/>
<circle cx="187.90" cy="446.40" r="1.4" fill="#000"/>
<circle cx="202.90" cy="471.60" r="1.4" fill="#000"/>
<polyline points="174.70,471.60 182.74,454.80 187.30,458.68 202.90,471.60" fill="none" stroke="#000" stroke-width="1.1" stroke-linejoin="round" />
<circle cx="174.70" cy="471.60" r="1.4" fill="#000"/>
<circle cx="182.74" cy="454.80" r="1.4" fill="#000"/>
<circle cx="187.30" cy="458.68" r="1.4" fill="#000"/>
<circle cx="202.90" cy="471.60" r="1.4" fill="#000"/>
<polyline points="166.30,471.60 174.70,471.60 178.30,471.60 183.10,471.60 187.90,471.60 202.90,471.60" fill="none" stroke="#000" stroke-width="1.0" stroke-linejoin="round" />
<circle cx="166.30" cy="471.60" r="1.6" fill="#000"/>
<circle cx="174.70" cy="471.60" r="1.6" fill="#000"/>
<circle cx="178.30" cy="471.60" r="1.6" fill="#000"/>
<circle cx="183.10" cy="471.60" r="1.6" fill="#000"/>
<circle cx="187.90" cy="471.60" r="1.6" fill="#000"/>
<circle cx="202.90" cy="471.60" r="1.6" fill="#000"/>
<text x="258.60" y="362.00" font-size="16.5" font-weight="bold" text-anchor="start" fill="#000"  stroke="#000" stroke-width="0.2">D</text>
<line x1="311.80" y1="370.30" x2="311.80" y2="471.50" stroke="#222" stroke-width="1.3"/>
<line x1="311.80" y1="471.50" x2="503.80" y2="471.50" stroke="#222" stroke-width="1.3"/>
<line x1="308.50" y1="471.50" x2="311.80" y2="471.50" stroke="#222" stroke-width="1.1"/>
<text x="302.10" y="475.90" font-size="10.7" font-weight="bold" text-anchor="end" fill="#000" stroke="#000" stroke-width="0.25">0</text>
<line x1="308.50" y1="446.32" x2="311.80" y2="446.32" stroke="#222" stroke-width="1.1"/>
<text x="302.10" y="450.72" font-size="10.7" font-weight="bold" text-anchor="end" fill="#000" stroke="#000" stroke-width="0.25">40</text>
<line x1="308.50" y1="421.15" x2="311.80" y2="421.15" stroke="#222" stroke-width="1.1"/>
<text x="302.10" y="425.55" font-size="10.7" font-weight="bold" text-anchor="end" fill="#000" stroke="#000" stroke-width="0.25">80</text>
<line x1="308.50" y1="395.98" x2="311.80" y2="395.98" stroke="#222" stroke-width="1.1"/>
<text x="302.10" y="400.38" font-size="10.7" font-weight="bold" text-anchor="end" fill="#000" stroke="#000" stroke-width="0.25">120</text>
<line x1="308.50" y1="370.80" x2="311.80" y2="370.80" stroke="#222" stroke-width="1.1"/>
<text x="302.10" y="375.20" font-size="10.7" font-weight="bold" text-anchor="end" fill="#000" stroke="#000" stroke-width="0.25">160</text>
<line x1="311.80" y1="471.50" x2="311.80" y2="474.50" stroke="#222" stroke-width="1.1"/>
<text x="311.80" y="493.90" font-size="10.7" font-weight="bold" text-anchor="middle" fill="#000" stroke="#000" stroke-width="0.25">0</text>
<line x1="359.80" y1="471.50" x2="359.80" y2="474.50" stroke="#222" stroke-width="1.1"/>
<text x="359.80" y="493.90" font-size="10.7" font-weight="bold" text-anchor="middle" fill="#000" stroke="#000" stroke-width="0.25">40</text>
<line x1="407.80" y1="471.50" x2="407.80" y2="474.50" stroke="#222" stroke-width="1.1"/>
<text x="407.80" y="493.90" font-size="10.7" font-weight="bold" text-anchor="middle" fill="#000" stroke="#000" stroke-width="0.25">80</text>
<line x1="455.80" y1="471.50" x2="455.80" y2="474.50" stroke="#222" stroke-width="1.1"/>
<text x="455.80" y="493.90" font-size="10.7" font-weight="bold" text-anchor="middle" fill="#000" stroke="#000" stroke-width="0.25">120</text>
<line x1="503.80" y1="471.50" x2="503.80" y2="474.50" stroke="#222" stroke-width="1.1"/>
<text x="503.80" y="493.90" font-size="10.7" font-weight="bold" text-anchor="middle" fill="#000" stroke="#000" stroke-width="0.25">160</text>
<text transform="translate(278.60,468.40) rotate(-90)" x="0" y="0" font-size="10.8" font-weight="bold" textLength="95.80" lengthAdjust="spacingAndGlyphs" stroke="#000" stroke-width="0.2">Tumor size (mm²)</text>
<text x="330.50" y="504.20" font-size="11.6" font-weight="bold" text-anchor="start" fill="#000" textLength="155.3" lengthAdjust="spacingAndGlyphs"  stroke="#000" stroke-width="0.2">Days after tumor inoculation</text>
<text x="427.30" y="405.00" font-size="11.6" font-weight="bold" text-anchor="end" fill="#000"  stroke="#000" stroke-width="0.2">Tumor</text>
<text x="427.30" y="418.50" font-size="11.6" font-weight="bold" text-anchor="end" fill="#000"  stroke="#000" stroke-width="0.2">rechallenge</text>
<polygon points="417.80,428.50 421.00,428.50 421.00,440.16 424.00,440.16 419.40,448.60 414.80,440.16 417.80,440.16" fill="#000"/>
<polyline points="311.80,471.50 319.96,471.50 328.12,441.29 332.44,462.69 336.28,471.50" fill="none" stroke="#000" stroke-width="1.1" stroke-linejoin="round" />
<polygon points="311.80,469.85 313.30,472.85 310.30,472.85" fill="#000" stroke="#000" stroke-width="0.8"/>
<polygon points="319.96,469.85 321.46,472.85 318.46,472.85" fill="#000" stroke="#000" stroke-width="0.8"/>
<polygon points="328.12,439.64 329.62,442.64 326.62,442.64" fill="#000" stroke="#000" stroke-width="0.8"/>
<polygon points="332.44,461.04 333.94,464.04 330.94,464.04" fill="#000" stroke="#000" stroke-width="0.8"/>
<polygon points="336.28,469.85 337.78,472.85 334.78,472.85" fill="#000" stroke="#000" stroke-width="0.8"/>
<polyline points="325.72,471.50 329.08,458.28 332.44,471.50" fill="none" stroke="#000" stroke-width="1.1" stroke-linejoin="round" />
<polygon points="325.72,469.67 327.42,473.03 324.02,473.03" fill="#000" stroke="#000" stroke-width="0.8"/>
<polygon points="329.08,456.45 330.78,459.81 327.38,459.81" fill="#000" stroke="#000" stroke-width="0.8"/>
<polygon points="332.44,469.67 334.14,473.03 330.74,473.03" fill="#000" stroke="#000" stroke-width="0.8"/>
<polyline points="329.08,471.50 332.44,462.69 336.28,471.50" fill="none" stroke="#000" stroke-width="1.3" stroke-linejoin="round" />
<rect x="327.58" y="470.00" width="3.0" height="3.0" fill="#000" stroke="#000" stroke-width="0.8"/>
<rect x="330.94" y="461.19" width="3.0" height="3.0" fill="#000" stroke="#000" stroke-width="0.8"/>
<rect x="334.78" y="470.00" width="3.0" height="3.0" fill="#000" stroke="#000" stroke-width="0.8"/>
<polyline points="311.80,471.50 319.96,471.50 325.72,471.50 327.40,471.50 333.28,424.93 337.12,419.89 345.16,431.85 353.32,460.80 361.24,471.50" fill="none" stroke="#000" stroke-width="1.1" stroke-linejoin="round" />
<polygon points="311.80,469.76 313.40,472.94 310.20,472.94" fill="#000" stroke="#000" stroke-width="0.8"/>
<polygon points="319.96,469.76 321.56,472.94 318.36,472.94" fill="#000" stroke="#000" stroke-width="0.8"/>
<polygon points="325.72,469.76 327.32,472.94 324.12,472.94" fill="#000" stroke="#000" stroke-width="0.8"/>
<polygon points="327.40,469.76 329.00,472.94 325.80,472.94" fill="#000" stroke="#000" stroke-width="0.8"/>
<polygon points="333.28,423.19 334.88,426.37 331.68,426.37" fill="#000" stroke="#000" stroke-width="0.8"/>
<polygon points="337.12,418.15 338.72,421.33 335.52,421.33" fill="#000" stroke="#000" stroke-width="0.8"/>
<polygon points="345.16,430.11 346.76,433.29 343.56,433.29" fill="#000" stroke="#000" stroke-width="0.8"/>
<polygon points="353.32,459.06 354.92,462.24 351.72,462.24" fill="#000" stroke="#000" stroke-width="0.8"/>
<polygon points="361.24,469.76 362.84,472.94 359.64,472.94" fill="#000" stroke="#000" stroke-width="0.8"/>
<polyline points="311.80,471.50 319.96,471.50 325.72,471.50 327.16,471.50 329.08,471.50 332.44,471.50 336.28,471.50 344.20,471.50 352.60,471.50 361.60,471.50 370.60,471.50" fill="none" stroke="#000" stroke-width="1.0" stroke-linejoin="round" />
<circle cx="311.80" cy="471.50" r="1.6" fill="#000"/>
<circle cx="319.96" cy="471.50" r="1.6" fill="#000"/>
<circle cx="325.72" cy="471.50" r="1.6" fill="#000"/>
<circle cx="327.16" cy="471.50" r="1.6" fill="#000"/>
<circle cx="329.08" cy="471.50" r="1.6" fill="#000"/>
<circle cx="332.44" cy="471.50" r="1.6" fill="#000"/>
<circle cx="336.28" cy="471.50" r="1.6" fill="#000"/>
<circle cx="344.20" cy="471.50" r="1.6" fill="#000"/>
<circle cx="352.60" cy="471.50" r="1.6" fill="#000"/>
<circle cx="361.60" cy="471.50" r="1.6" fill="#000"/>
<circle cx="370.60" cy="471.50" r="1.6" fill="#000"/>
<polyline points="427.00,471.50 429.76,471.50 432.40,471.50 436.12,442.05 441.04,457.02 456.28,471.50" fill="none" stroke="#000" stroke-width="1.1" stroke-linejoin="round" />
<circle cx="427.00" cy="471.50" r="1.3" fill="#fff" stroke="#999" stroke-width="0.7"/>
<circle cx="429.76" cy="471.50" r="1.3" fill="#fff" stroke="#999" stroke-width="0.7"/>
<circle cx="432.40" cy="471.50" r="1.3" fill="#fff" stroke="#999" stroke-width="0.7"/>
<circle cx="436.12" cy="442.05" r="1.3" fill="#fff" stroke="#999" stroke-width="0.7"/>
<circle cx="441.04" cy="457.02" r="1.3" fill="#fff" stroke="#999" stroke-width="0.7"/>
<circle cx="456.28" cy="471.50" r="1.3" fill="#fff" stroke="#999" stroke-width="0.7"/>
<polyline points="419.20,471.50" fill="none" stroke="#000" stroke-width="1.0" stroke-linejoin="round" />
<rect x="417.80" y="470.10" width="2.8" height="2.8" fill="#000" stroke="#000" stroke-width="0.8"/>
<polyline points="427.00,471.50 429.76,471.50 432.76,471.50 436.60,471.50 441.04,471.50 456.28,471.50" fill="none" stroke="#000" stroke-width="1.0" stroke-linejoin="round" />
<rect x="425.70" y="470.20" width="2.6" height="2.6" fill="#000" stroke="#000" stroke-width="0.8"/>
<rect x="428.46" y="470.20" width="2.6" height="2.6" fill="#000" stroke="#000" stroke-width="0.8"/>
<rect x="431.46" y="470.20" width="2.6" height="2.6" fill="#000" stroke="#000" stroke-width="0.8"/>
<rect x="435.30" y="470.20" width="2.6" height="2.6" fill="#000" stroke="#000" stroke-width="0.8"/>
<rect x="439.74" y="470.20" width="2.6" height="2.6" fill="#000" stroke="#000" stroke-width="0.8"/>
<rect x="454.98" y="470.20" width="2.6" height="2.6" fill="#000" stroke="#000" stroke-width="0.8"/>
<text x="7.70" y="519.30" font-size="16.5" font-weight="bold" text-anchor="start" fill="#000"  stroke="#000" stroke-width="0.2">E</text>
<line x1="56.30" y1="530.00" x2="56.30" y2="632.00" stroke="#222" stroke-width="1.3"/>
<line x1="56.30" y1="632.00" x2="247.05" y2="632.00" stroke="#222" stroke-width="1.3"/>
<line x1="53.00" y1="632.00" x2="56.30" y2="632.00" stroke="#222" stroke-width="1.1"/>
<text x="46.20" y="636.40" font-size="10.7" font-weight="bold" text-anchor="end" fill="#000" stroke="#000" stroke-width="0.25">0</text>
<line x1="53.00" y1="611.70" x2="56.30" y2="611.70" stroke="#222" stroke-width="1.1"/>
<text x="46.20" y="616.10" font-size="10.7" font-weight="bold" text-anchor="end" fill="#000" stroke="#000" stroke-width="0.25">50</text>
<line x1="53.00" y1="591.40" x2="56.30" y2="591.40" stroke="#222" stroke-width="1.1"/>
<text x="46.20" y="595.80" font-size="10.7" font-weight="bold" text-anchor="end" fill="#000" stroke="#000" stroke-width="0.25">100</text>
<line x1="53.00" y1="571.10" x2="56.30" y2="571.10" stroke="#222" stroke-width="1.1"/>
<text x="46.20" y="575.50" font-size="10.7" font-weight="bold" text-anchor="end" fill="#000" stroke="#000" stroke-width="0.25">150</text>
<line x1="53.00" y1="550.80" x2="56.30" y2="550.80" stroke="#222" stroke-width="1.1"/>
<text x="46.20" y="555.20" font-size="10.7" font-weight="bold" text-anchor="end" fill="#000" stroke="#000" stroke-width="0.25">200</text>
<line x1="53.00" y1="530.50" x2="56.30" y2="530.50" stroke="#222" stroke-width="1.1"/>
<text x="46.20" y="534.90" font-size="10.7" font-weight="bold" text-anchor="end" fill="#000" stroke="#000" stroke-width="0.25">250</text>
<line x1="56.30" y1="632.00" x2="56.30" y2="635.00" stroke="#222" stroke-width="1.1"/>
<text x="56.30" y="654.10" font-size="10.7" font-weight="bold" text-anchor="middle" fill="#000" stroke="#000" stroke-width="0.25">0</text>
<line x1="94.45" y1="632.00" x2="94.45" y2="635.00" stroke="#222" stroke-width="1.1"/>
<text x="94.45" y="654.10" font-size="10.7" font-weight="bold" text-anchor="middle" fill="#000" stroke="#000" stroke-width="0.25">50</text>
<line x1="132.60" y1="632.00" x2="132.60" y2="635.00" stroke="#222" stroke-width="1.1"/>
<text x="132.60" y="654.10" font-size="10.7" font-weight="bold" text-anchor="middle" fill="#000" stroke="#000" stroke-width="0.25">100</text>
<line x1="170.75" y1="632.00" x2="170.75" y2="635.00" stroke="#222" stroke-width="1.1"/>
<text x="170.75" y="654.10" font-size="10.7" font-weight="bold" text-anchor="middle" fill="#000" stroke="#000" stroke-width="0.25">150</text>
<line x1="208.90" y1="632.00" x2="208.90" y2="635.00" stroke="#222" stroke-width="1.1"/>
<text x="208.90" y="654.10" font-size="10.7" font-weight="bold" text-anchor="middle" fill="#000" stroke="#000" stroke-width="0.25">200</text>
<line x1="247.05" y1="632.00" x2="247.05" y2="635.00" stroke="#222" stroke-width="1.1"/>
<text x="247.05" y="654.10" font-size="10.7" font-weight="bold" text-anchor="middle" fill="#000" stroke="#000" stroke-width="0.25">250</text>
<text transform="translate(22.90,628.40) rotate(-90)" x="0" y="0" font-size="10.8" font-weight="bold" textLength="94.90" lengthAdjust="spacingAndGlyphs" stroke="#000" stroke-width="0.2">Tumor size (mm²)</text>
<text x="74.20" y="664.50" font-size="11.6" font-weight="bold" text-anchor="start" fill="#000" textLength="155.4" lengthAdjust="spacingAndGlyphs"  stroke="#000" stroke-width="0.2">Days after tumor inoculation</text>
<text x="201.70" y="563.80" font-size="11.6" font-weight="bold" text-anchor="end" fill="#000"  stroke="#000" stroke-width="0.2">Tumor</text>
<text x="201.70" y="577.70" font-size="11.6" font-weight="bold" text-anchor="end" fill="#000"  stroke="#000" stroke-width="0.2">rechallenge</text>
<polygon points="192.00,587.80 195.20,587.80 195.20,599.52 198.20,599.52 193.60,608.00 189.00,599.52 192.00,599.52" fill="#000"/>
<polyline points="60.73,632.00 65.23,627.13 66.98,623.88 70.42,617.79 72.70,623.88 77.89,632.00" fill="none" stroke="#222" stroke-width="0.7" stroke-linejoin="round" />
<polygon points="60.73,630.08 62.53,633.62 58.93,633.62" fill="#fff" stroke="#222" stroke-width="0.7"/>
<polygon points="65.23,625.21 67.03,628.75 63.43,628.75" fill="#fff" stroke="#222" stroke-width="0.7"/>
<polygon points="66.98,621.96 68.78,625.50 65.18,625.50" fill="#fff" stroke="#222" stroke-width="0.7"/>
<polygon points="70.42,615.87 72.22,619.41 68.62,619.41" fill="#fff" stroke="#222" stroke-width="0.7"/>
<polygon points="72.70,621.96 74.50,625.50 70.90,625.50" fill="#fff" stroke="#222" stroke-width="0.7"/>
<polygon points="77.89,630.08 79.69,633.62 76.09,633.62" fill="#fff" stroke="#222" stroke-width="0.7"/>
<polyline points="60.73,632.00 65.46,629.97 67.75,627.94 70.42,623.07 73.09,628.75 77.89,632.00" fill="none" stroke="#222" stroke-width="0.7" stroke-linejoin="round" />
<circle cx="60.73" cy="632.00" r="1.5" fill="#fff" stroke="#222" stroke-width="0.7"/>
<circle cx="65.46" cy="629.97" r="1.5" fill="#fff" stroke="#222" stroke-width="0.7"/>
<circle cx="67.75" cy="627.94" r="1.5" fill="#fff" stroke="#222" stroke-width="0.7"/>
<circle cx="70.42" cy="623.07" r="1.5" fill="#fff" stroke="#222" stroke-width="0.7"/>
<circle cx="73.09" cy="628.75" r="1.5" fill="#fff" stroke="#222" stroke-width="0.7"/>
<circle cx="77.89" cy="632.00" r="1.5" fill="#fff" stroke="#222" stroke-width="0.7"/>
<polyline points="77.89,632.00 83.69,624.41 88.88,632.00" fill="none" stroke="#222" stroke-width="0.8" stroke-linejoin="round" />
<polygon points="77.89,629.99 79.79,633.71 75.99,633.71" fill="#fff" stroke="#222" stroke-width="0.7"/>
<polygon points="83.69,622.40 85.59,626.12 81.79,626.12" fill="#fff" stroke="#222" stroke-width="0.7"/>
<polygon points="88.88,629.99 90.78,633.71 86.98,633.71" fill="#fff" stroke="#222" stroke-width="0.7"/>
<polyline points="60.73,632.00 66.98,617.79 70.42,599.52 72.70,611.70 77.89,632.00" fill="none" stroke="#000" stroke-width="1.0" stroke-linejoin="round" />
<circle cx="60.73" cy="632.00" r="1.4" fill="#000"/>
<circle cx="66.98" cy="617.79" r="1.4" fill="#000"/>
<circle cx="70.42" cy="599.52" r="1.4" fill="#000"/>
<circle cx="72.70" cy="611.70" r="1.4" fill="#000"/>
<circle cx="77.89" cy="632.00" r="1.4" fill="#000"/>
<polyline points="60.73,632.00 65.23,620.39 66.98,609.67 70.42,595.46 72.17,616.98 77.89,632.00" fill="none" stroke="#000" stroke-width="1.0" stroke-linejoin="round" />
<rect x="59.33" y="630.60" width="2.8" height="2.8" fill="#000" stroke="#000" stroke-width="0.8"/>
<rect x="63.83" y="618.99" width="2.8" height="2.8" fill="#000" stroke="#000" stroke-width="0.8"/>
<rect x="65.58" y="608.27" width="2.8" height="2.8" fill="#000" stroke="#000" stroke-width="0.8"/>
<rect x="69.02" y="594.06" width="2.8" height="2.8" fill="#000" stroke="#000" stroke-width="0.8"/>
<rect x="70.77" y="615.58" width="2.8" height="2.8" fill="#000" stroke="#000" stroke-width="0.8"/>
<rect x="76.49" y="630.60" width="2.8" height="2.8" fill="#000" stroke="#000" stroke-width="0.8"/>
<polyline points="56.30,632.00 60.73,632.00 67.36,602.77 70.42,589.78 72.70,604.39 77.89,632.00" fill="none" stroke="#000" stroke-width="1.2" stroke-linejoin="round" />
<circle cx="56.30" cy="632.00" r="1.5" fill="#000"/>
<circle cx="60.73" cy="632.00" r="1.5" fill="#000"/>
<circle cx="67.36" cy="602.77" r="1.5" fill="#000"/>
<circle cx="70.42" cy="589.78" r="1.5" fill="#000"/>
<circle cx="72.70" cy="604.39" r="1.5" fill="#000"/>
<circle cx="77.89" cy="632.00" r="1.5" fill="#000"/>
<polyline points="56.30,632.00 60.73,632.00 77.89,632.00 83.08,632.00 88.88,632.00 93.92,632.00" fill="none" stroke="#000" stroke-width="1.0" stroke-linejoin="round" />
<circle cx="56.30" cy="632.00" r="1.7" fill="#000"/>
<circle cx="60.73" cy="632.00" r="1.7" fill="#000"/>
<circle cx="77.89" cy="632.00" r="1.7" fill="#000"/>
<circle cx="83.08" cy="632.00" r="1.7" fill="#000"/>
<circle cx="88.88" cy="632.00" r="1.7" fill="#000"/>
<circle cx="93.92" cy="632.00" r="1.7" fill="#000"/>
<polyline points="200.13,632.00 202.80,632.00 204.93,618.20 206.61,619.82 208.14,632.00" fill="none" stroke="#000" stroke-width="1.0" stroke-linejoin="round" />
<polygon points="200.13,630.08 201.93,633.62 198.33,633.62" fill="#fff" stroke="#444" stroke-width="0.7"/>
<polygon points="202.80,630.08 204.60,633.62 201.00,633.62" fill="#fff" stroke="#444" stroke-width="0.7"/>
<polygon points="204.93,616.28 206.73,619.82 203.13,619.82" fill="#fff" stroke="#444" stroke-width="0.7"/>
<polygon points="206.61,617.90 208.41,621.44 204.81,621.44" fill="#fff" stroke="#444" stroke-width="0.7"/>
<polygon points="208.14,630.08 209.94,633.62 206.34,633.62" fill="#fff" stroke="#444" stroke-width="0.7"/>
<polyline points="201.27,632.00 203.56,623.88 205.08,621.85 206.61,632.00" fill="none" stroke="#000" stroke-width="1.0" stroke-linejoin="round" />
<circle cx="201.27" cy="632.00" r="1.5" fill="#fff" stroke="#444" stroke-width="0.7"/>
<circle cx="203.56" cy="623.88" r="1.5" fill="#fff" stroke="#444" stroke-width="0.7"/>
<circle cx="205.08" cy="621.85" r="1.5" fill="#fff" stroke="#444" stroke-width="0.7"/>
<circle cx="206.61" cy="632.00" r="1.5" fill="#fff" stroke="#444" stroke-width="0.7"/>
<polyline points="205.24,632.00 208.29,609.26 210.27,582.87 213.71,558.92 215.92,537.81" fill="none" stroke="#000" stroke-width="1.7" stroke-linejoin="round" />
<circle cx="205.24" cy="632.00" r="1.4" fill="#000"/>
<circle cx="208.29" cy="609.26" r="1.4" fill="#000"/>
<circle cx="210.27" cy="582.87" r="1.4" fill="#000"/>
<circle cx="213.71" cy="558.92" r="1.4" fill="#000"/>
<circle cx="215.92" cy="537.81" r="1.4" fill="#000"/>
<polyline points="205.24,632.00 207.37,599.11 209.97,580.44 213.17,552.18 215.08,531.80" fill="none" stroke="#000" stroke-width="1.1" stroke-linejoin="round" />
<circle cx="205.24" cy="632.00" r="1.5" fill="#fff" stroke="#333" stroke-width="0.7"/>
<circle cx="207.37" cy="599.11" r="1.5" fill="#fff" stroke="#333" stroke-width="0.7"/>
<circle cx="209.97" cy="580.44" r="1.5" fill="#fff" stroke="#333" stroke-width="0.7"/>
<circle cx="213.17" cy="552.18" r="1.5" fill="#fff" stroke="#333" stroke-width="0.7"/>
<circle cx="215.08" cy="531.80" r="1.5" fill="#fff" stroke="#333" stroke-width="0.7"/>
<polyline points="193.33,632.00 200.13,632.00 202.80,632.00 205.08,632.00 208.14,632.00 211.19,632.00 213.71,632.00 216.53,632.00" fill="none" stroke="#000" stroke-width="1.3" stroke-linejoin="round" />
<rect x="191.83" y="630.50" width="3.0" height="3.0" fill="#000" stroke="#000" stroke-width="0.8"/>
<rect x="198.63" y="630.50" width="3.0" height="3.0" fill="#000" stroke="#000" stroke-width="0.8"/>
<rect x="201.30" y="630.50" width="3.0" height="3.0" fill="#000" stroke="#000" stroke-width="0.8"/>
<rect x="203.58" y="630.50" width="3.0" height="3.0" fill="#000" stroke="#000" stroke-width="0.8"/>
<rect x="206.64" y="630.50" width="3.0" height="3.0" fill="#000" stroke="#000" stroke-width="0.8"/>
<rect x="209.69" y="630.50" width="3.0" height="3.0" fill="#000" stroke="#000" stroke-width="0.8"/>
<rect x="212.21" y="630.50" width="3.0" height="3.0" fill="#000" stroke="#000" stroke-width="0.8"/>
<rect x="215.03" y="630.50" width="3.0" height="3.0" fill="#000" stroke="#000" stroke-width="0.8"/>
<rect x="254.3" y="643" width="6" height="14" fill="#fff"/>
<text x="258.20" y="522.20" font-size="16.5" font-weight="bold" text-anchor="start" fill="#000"  stroke="#000" stroke-width="0.2">F</text>
<line x1="308.70" y1="532.30" x2="308.70" y2="636.00" stroke="#222" stroke-width="1.3"/>
<line x1="308.70" y1="636.00" x2="503.20" y2="636.00" stroke="#222" stroke-width="1.3"/>
<line x1="305.40" y1="636.00" x2="308.70" y2="636.00" stroke="#222" stroke-width="1.1"/>
<text x="298.40" y="640.40" font-size="10.7" font-weight="bold" text-anchor="end" fill="#000" stroke="#000" stroke-width="0.25">0</text>
<line x1="305.40" y1="615.36" x2="308.70" y2="615.36" stroke="#222" stroke-width="1.1"/>
<text x="298.40" y="619.76" font-size="10.7" font-weight="bold" text-anchor="end" fill="#000" stroke="#000" stroke-width="0.25">50</text>
<line x1="305.40" y1="594.72" x2="308.70" y2="594.72" stroke="#222" stroke-width="1.1"/>
<text x="298.40" y="599.12" font-size="10.7" font-weight="bold" text-anchor="end" fill="#000" stroke="#000" stroke-width="0.25">100</text>
<line x1="305.40" y1="574.08" x2="308.70" y2="574.08" stroke="#222" stroke-width="1.1"/>
<text x="298.40" y="578.48" font-size="10.7" font-weight="bold" text-anchor="end" fill="#000" stroke="#000" stroke-width="0.25">150</text>
<line x1="305.40" y1="553.44" x2="308.70" y2="553.44" stroke="#222" stroke-width="1.1"/>
<text x="298.40" y="557.84" font-size="10.7" font-weight="bold" text-anchor="end" fill="#000" stroke="#000" stroke-width="0.25">200</text>
<line x1="305.40" y1="532.80" x2="308.70" y2="532.80" stroke="#222" stroke-width="1.1"/>
<text x="298.40" y="537.20" font-size="10.7" font-weight="bold" text-anchor="end" fill="#000" stroke="#000" stroke-width="0.25">250</text>
<line x1="308.70" y1="636.00" x2="308.70" y2="639.00" stroke="#222" stroke-width="1.1"/>
<text x="308.70" y="658.70" font-size="10.7" font-weight="bold" text-anchor="middle" fill="#000" stroke="#000" stroke-width="0.25">0</text>
<line x1="347.60" y1="636.00" x2="347.60" y2="639.00" stroke="#222" stroke-width="1.1"/>
<text x="347.60" y="658.70" font-size="10.7" font-weight="bold" text-anchor="middle" fill="#000" stroke="#000" stroke-width="0.25">50</text>
<line x1="386.50" y1="636.00" x2="386.50" y2="639.00" stroke="#222" stroke-width="1.1"/>
<text x="386.50" y="658.70" font-size="10.7" font-weight="bold" text-anchor="middle" fill="#000" stroke="#000" stroke-width="0.25">100</text>
<line x1="425.40" y1="636.00" x2="425.40" y2="639.00" stroke="#222" stroke-width="1.1"/>
<text x="425.40" y="658.70" font-size="10.7" font-weight="bold" text-anchor="middle" fill="#000" stroke="#000" stroke-width="0.25">150</text>
<line x1="464.30" y1="636.00" x2="464.30" y2="639.00" stroke="#222" stroke-width="1.1"/>
<text x="464.30" y="658.70" font-size="10.7" font-weight="bold" text-anchor="middle" fill="#000" stroke="#000" stroke-width="0.25">200</text>
<line x1="503.20" y1="636.00" x2="503.20" y2="639.00" stroke="#222" stroke-width="1.1"/>
<text x="503.20" y="658.70" font-size="10.7" font-weight="bold" text-anchor="middle" fill="#000" stroke="#000" stroke-width="0.25">250</text>
<text transform="translate(273.80,630.90) rotate(-90)" x="0" y="0" font-size="10.8" font-weight="bold" textLength="94.90" lengthAdjust="spacingAndGlyphs" stroke="#000" stroke-width="0.2">Tumor size (mm²)</text>
<text x="327.30" y="670.00" font-size="11.6" font-weight="bold" text-anchor="start" fill="#000" textLength="158.5" lengthAdjust="spacingAndGlyphs"  stroke="#000" stroke-width="0.2">Days after tumor inoculation</text>
<text x="457.60" y="567.40" font-size="11.6" font-weight="bold" text-anchor="end" fill="#000"  stroke="#000" stroke-width="0.2">Tumor</text>
<text x="457.60" y="581.80" font-size="11.6" font-weight="bold" text-anchor="end" fill="#000"  stroke="#000" stroke-width="0.2">rechallenge</text>
<polygon points="448.60,591.50 451.80,591.50 451.80,603.22 454.80,603.22 450.20,611.70 445.60,603.22 448.60,603.22" fill="#000"/>
<polyline points="317.26,636.00 319.20,626.18 322.63,623.33 324.26,636.00" fill="none" stroke="#666" stroke-width="0.8" stroke-linejoin="round" />
<rect x="315.66" y="634.40" width="3.2" height="3.2" fill="#fff" stroke="#888" stroke-width="0.7"/>
<rect x="317.60" y="624.58" width="3.2" height="3.2" fill="#fff" stroke="#888" stroke-width="0.7"/>
<rect x="321.03" y="621.73" width="3.2" height="3.2" fill="#fff" stroke="#888" stroke-width="0.7"/>
<rect x="322.66" y="634.40" width="3.2" height="3.2" fill="#fff" stroke="#888" stroke-width="0.7"/>
<polyline points="319.67,636.00 323.17,626.09 326.13,611.23 335.31,636.00" fill="none" stroke="#000" stroke-width="1.2" stroke-linejoin="round" />
<polygon points="319.67,634.08 321.47,637.62 317.87,637.62" fill="#000" stroke="#000" stroke-width="0.8"/>
<polygon points="323.17,624.17 324.97,627.71 321.37,627.71" fill="#000" stroke="#000" stroke-width="0.8"/>
<polygon points="326.13,609.31 327.93,612.85 324.33,612.85" fill="#000" stroke="#000" stroke-width="0.8"/>
<polygon points="335.31,634.08 337.11,637.62 333.51,637.62" fill="#000" stroke="#000" stroke-width="0.8"/>
<polyline points="308.70,636.00 315.08,636.00 319.67,636.00 323.17,626.18 326.67,627.91 331.57,626.18 337.02,624.44 342.54,625.27 347.37,636.00" fill="none" stroke="#000" stroke-width="1.2" stroke-linejoin="round" />
<circle cx="308.70" cy="636.00" r="1.6" fill="#000"/>
<circle cx="315.08" cy="636.00" r="1.6" fill="#000"/>
<circle cx="319.67" cy="636.00" r="1.6" fill="#000"/>
<circle cx="323.17" cy="626.18" r="1.6" fill="#000"/>
<circle cx="326.67" cy="627.91" r="1.6" fill="#000"/>
<circle cx="331.57" cy="626.18" r="1.6" fill="#000"/>
<circle cx="337.02" cy="624.44" r="1.6" fill="#000"/>
<circle cx="342.54" cy="625.27" r="1.6" fill="#000"/>
<circle cx="347.37" cy="636.00" r="1.6" fill="#000"/>
<polyline points="319.67,636.00 322.70,628.57 325.50,636.00" fill="none" stroke="#000" stroke-width="1.2" stroke-linejoin="round" />
<rect x="318.17" y="634.50" width="3.0" height="3.0" fill="#000" stroke="#000" stroke-width="0.8"/>
<rect x="321.20" y="627.07" width="3.0" height="3.0" fill="#000" stroke="#000" stroke-width="0.8"/>
<rect x="324.00" y="634.50" width="3.0" height="3.0" fill="#000" stroke="#000" stroke-width="0.8"/>
<polyline points="308.70,636.00 315.08,636.00 319.67,636.00 325.50,636.00 330.87,636.00 336.71,636.00 342.23,636.00 347.37,636.00" fill="none" stroke="#000" stroke-width="1.0" stroke-linejoin="round" />
<rect x="307.10" y="634.40" width="3.2" height="3.2" fill="#000" stroke="#000" stroke-width="0.8"/>
<rect x="313.48" y="634.40" width="3.2" height="3.2" fill="#000" stroke="#000" stroke-width="0.8"/>
<rect x="318.07" y="634.40" width="3.2" height="3.2" fill="#000" stroke="#000" stroke-width="0.8"/>
<rect x="323.90" y="634.40" width="3.2" height="3.2" fill="#000" stroke="#000" stroke-width="0.8"/>
<rect x="329.27" y="634.40" width="3.2" height="3.2" fill="#000" stroke="#000" stroke-width="0.8"/>
<rect x="335.11" y="634.40" width="3.2" height="3.2" fill="#000" stroke="#000" stroke-width="0.8"/>
<rect x="340.63" y="634.40" width="3.2" height="3.2" fill="#000" stroke="#000" stroke-width="0.8"/>
<rect x="345.77" y="634.40" width="3.2" height="3.2" fill="#000" stroke="#000" stroke-width="0.8"/>
<polyline points="457.69,636.00 460.80,618.41 463.29,609.17 465.70,591.00 468.81,559.38 470.99,536.52" fill="none" stroke="#000" stroke-width="1.1" stroke-linejoin="round" />
<rect x="456.09" y="634.40" width="3.2" height="3.2" fill="#fff" stroke="#333" stroke-width="0.7"/>
<rect x="459.20" y="616.81" width="3.2" height="3.2" fill="#fff" stroke="#333" stroke-width="0.7"/>
<rect x="461.69" y="607.57" width="3.2" height="3.2" fill="#fff" stroke="#333" stroke-width="0.7"/>
<rect x="464.10" y="589.40" width="3.2" height="3.2" fill="#fff" stroke="#333" stroke-width="0.7"/>
<rect x="467.21" y="557.78" width="3.2" height="3.2" fill="#fff" stroke="#333" stroke-width="0.7"/>
<rect x="469.39" y="534.92" width="3.2" height="3.2" fill="#fff" stroke="#333" stroke-width="0.7"/>
<polyline points="457.69,636.00 462.51,613.30 469.59,627.74 472.08,636.00" fill="none" stroke="#000" stroke-width="1.5" stroke-linejoin="round" />
<polygon points="457.69,634.17 459.39,637.53 455.99,637.53" fill="#000" stroke="#000" stroke-width="0.8"/>
<polygon points="462.51,611.47 464.21,614.83 460.81,614.83" fill="#000" stroke="#000" stroke-width="0.8"/>
<polygon points="469.59,625.91 471.29,629.27 467.89,629.27" fill="#000" stroke="#000" stroke-width="0.8"/>
<polygon points="472.08,634.17 473.78,637.53 470.38,637.53" fill="#000" stroke="#000" stroke-width="0.8"/>
<polyline points="458.85,636.00 461.19,625.68 463.52,621.55 466.63,629.81 468.97,636.00" fill="none" stroke="#444" stroke-width="0.8" stroke-linejoin="round" />
<polygon points="458.85,634.26 460.45,637.44 457.25,637.44" fill="#fff" stroke="#666" stroke-width="0.7"/>
<polygon points="461.19,623.94 462.79,627.12 459.59,627.12" fill="#fff" stroke="#666" stroke-width="0.7"/>
<polygon points="463.52,619.81 465.12,622.99 461.92,622.99" fill="#fff" stroke="#666" stroke-width="0.7"/>
<polygon points="466.63,628.07 468.23,631.25 465.03,631.25" fill="#fff" stroke="#666" stroke-width="0.7"/>
<polygon points="468.97,634.26 470.57,637.44 467.37,637.44" fill="#fff" stroke="#666" stroke-width="0.7"/>
<polyline points="449.21,636.00 453.41,636.00 455.74,636.00 458.08,636.00 460.41,636.00 462.74,636.00 465.08,636.00 467.41,636.00 469.75,636.00 472.08,636.00" fill="none" stroke="#000" stroke-width="1.4" stroke-linejoin="round" />
<rect x="447.71" y="634.50" width="3.0" height="3.0" fill="#000" stroke="#000" stroke-width="0.8"/>
<rect x="451.91" y="634.50" width="3.0" height="3.0" fill="#000" stroke="#000" stroke-width="0.8"/>
<rect x="454.24" y="634.50" width="3.0" height="3.0" fill="#000" stroke="#000" stroke-width="0.8"/>
<rect x="456.58" y="634.50" width="3.0" height="3.0" fill="#000" stroke="#000" stroke-width="0.8"/>
<rect x="458.91" y="634.50" width="3.0" height="3.0" fill="#000" stroke="#000" stroke-width="0.8"/>
<rect x="461.24" y="634.50" width="3.0" height="3.0" fill="#000" stroke="#000" stroke-width="0.8"/>
<rect x="463.58" y="634.50" width="3.0" height="3.0" fill="#000" stroke="#000" stroke-width="0.8"/>
<rect x="465.91" y="634.50" width="3.0" height="3.0" fill="#000" stroke="#000" stroke-width="0.8"/>
<rect x="468.25" y="634.50" width="3.0" height="3.0" fill="#000" stroke="#000" stroke-width="0.8"/>
<rect x="470.58" y="634.50" width="3.0" height="3.0" fill="#000" stroke="#000" stroke-width="0.8"/>
</svg></body></html>
